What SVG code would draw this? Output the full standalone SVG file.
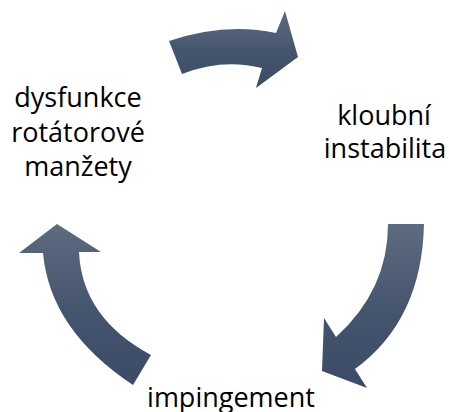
<svg xmlns="http://www.w3.org/2000/svg" width="449" height="412" viewBox="0 0 449 412">
<defs>
<linearGradient id="g" x1="0" y1="0" x2="0" y2="1">
<stop offset="0" stop-color="#5d6b80"/>
<stop offset="0.5" stop-color="#47566f"/>
<stop offset="1" stop-color="#3b4a66"/>
</linearGradient>
<style>
.a{fill:url(#g);stroke:none}
.t{font-family:"Open Sans","Liberation Sans",Arial,sans-serif;font-size:27px;fill:#000;text-anchor:middle}
</style>
</defs>
<rect width="449" height="412" fill="#fff"/>
<g id="connectors">
<path class="a" d="M169,41 Q225,22 276,33 L285,11 L298,57 L256,88 L262,68 Q222,58 182,74 Z"/>
<path class="a" d="M388,224 L424,224 Q422,320 355,369 L367,388 L322,371 L324,318 L336,337 Q388,290 388,224 Z"/>
<path class="a" d="M57,224 L101,252 L79,252 Q82,318 151,355 L133,385 Q50,330 43,253 L19,253 Z"/>
</g>
<g id="node-dysfunkce">
<text class="t" x="78" y="107">dysfunkce</text>
<text class="t" x="78" y="142">rotátorové</text>
<text class="t" x="78" y="176">manžety</text>
</g>
<g id="node-kloubni">
<text class="t" x="384" y="125">kloubní</text>
<text class="t" x="385" y="158">instabilita</text>
</g>
<g id="node-impingement">
<text class="t" x="231" y="407">impingement</text>
</g>
</svg>
